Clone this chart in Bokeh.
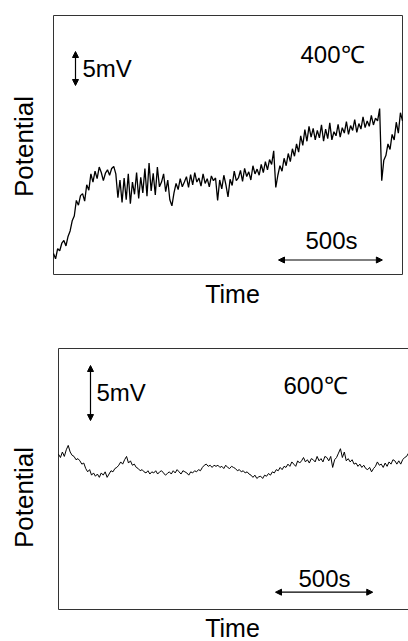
from bokeh.plotting import figure
from bokeh.models import Arrow, NormalHead, Range1d, ColumnDataSource
from bokeh.core.properties import value
from bokeh.layouts import column
from bokeh.embed import file_html
from bokeh.resources import INLINE
import math

# ---------------- data ----------------
# 400 C run: potential (mV, arbitrary offset) sampled every 10 s
pot_400 = [
    3.1, 2.3, 3.8, 3.5, 4.6, 5.0, 4.2, 5.6, 6.4, 7.9,
    8.6, 10.9, 10.2, 11.6, 11.9, 10.8, 13.2, 12.4, 14.8,
    13.6, 15.2, 14.1, 15.8, 15.0, 13.8, 14.9, 15.4, 14.6, 15.6, 15.9, 14.8,
    11.3,
    13.9, 10.6, 14.2, 11.0, 14.8, 10.4, 13.6, 11.8, 15.0, 11.2, 14.3, 12.0, 15.6,
    11.5, 16.4, 12.3, 14.9, 11.7, 15.8, 12.9, 13.6, 14.8, 12.2, 13.9, 11.0,
    10.1,
    12.0, 13.4, 12.5, 14.1, 12.9, 13.6, 14.4, 12.8, 14.7, 13.2, 15.0, 13.6, 14.2,
    13.0, 14.8, 13.4, 14.1, 12.9, 14.5, 13.8, 14.2,
    10.9,
    13.9, 12.6, 14.6, 13.2, 11.4, 14.0, 13.1, 15.2, 13.8,
    14.2, 15.3, 13.7, 15.6, 14.4, 15.1, 13.9, 16.0, 14.8, 15.5, 14.6, 16.2, 15.0,
    16.6, 15.4, 16.9,
    16.2, 18.2, 12.8,
    14.6, 16.0, 15.2, 17.1, 16.0, 17.8, 16.6, 18.5, 17.4, 19.2, 18.0,
    20.4, 19.0, 21.3, 19.6, 21.8, 20.2, 21.5, 19.8, 21.2,
    20.1, 22.0, 19.6, 21.4, 20.0, 22.3, 19.8, 21.0, 20.4, 22.1, 20.2, 21.6, 20.8,
    22.5, 20.6, 21.9, 21.2, 22.8, 20.9, 22.2, 21.4, 23.2, 21.6, 22.6, 21.8, 23.4,
    22.0, 23.0, 22.6,
    24.4, 13.8,
    16.8, 17.5, 19.2, 18.4, 20.6, 19.8, 22.4, 20.8, 23.8, 22.6,
]
time_400 = [10 * i for i in range(len(pot_400))]

# 600 C run: potential (mV, arbitrary offset) sampled every 10 s
pot_600 = [
    14.1, 13.8, 14.3, 13.9, 14.5, 14.9, 14.3, 14.0, 13.9, 13.6,
    13.7, 13.5, 13.2, 13.3, 12.8, 12.5, 12.7, 12.2, 12.4, 12.1,
    12.3, 12.0, 12.4, 12.2, 12.5, 12.0, 12.3, 12.6, 12.5, 12.8,
    12.9, 13.1, 13.4, 13.2, 13.6, 13.9, 13.3, 13.5, 13.1, 13.2,
    12.9, 12.8, 12.6, 12.7, 12.5, 12.4, 12.6, 12.3, 12.5, 12.4,
    12.6, 12.3, 12.5, 12.6, 12.4, 12.2, 12.35, 12.5, 12.3, 12.6,
    12.4, 12.7, 12.5, 12.3, 12.6, 12.5, 12.4, 12.2, 12.5, 12.4,
    12.6, 12.5, 12.7, 12.6, 12.9, 13.1, 13.2, 13.0, 13.1, 12.9,
    13.1, 13.0, 13.1, 12.9, 13.0, 12.8, 13.1, 12.9, 12.8, 13.0,
    12.9, 12.8, 12.6, 12.7, 12.5, 12.6, 12.4, 12.5, 12.3, 12.2,
    12.0, 12.2, 11.9, 12.05, 12.1, 11.9, 12.2, 12.1, 12.35, 12.2,
    12.5, 12.4, 12.7, 12.6, 12.9, 12.7, 13.0, 12.9, 13.2, 13.0,
    13.4, 13.2, 13.0, 13.5, 13.3, 13.5, 13.8, 13.4, 13.6, 13.3,
    13.7, 13.6, 13.4, 13.9, 13.5, 13.7, 13.4, 13.9, 13.8, 13.5,
    13.9, 12.9, 13.6, 13.8, 14.2, 14.6, 13.8, 14.3, 13.5, 13.7,
    13.4, 13.6, 13.2, 13.3, 13.0, 13.2, 12.9, 13.1, 12.8, 12.7,
    12.9, 12.5, 12.8, 13.0, 13.4, 13.1, 13.2, 12.9, 13.3, 13.0,
    13.4, 13.2, 13.6, 13.5, 13.2, 13.5, 13.2, 13.6, 13.8, 13.9,
    14.2,
]
time_600 = [10 * i for i in range(len(pot_600))]

labels_temp = ["400\u2103", "600\u2103"]
scale_v_label = "5mV"
scale_t_label = "500s"
x_title = "Time"
y_title = "Potential"
scale_v = 5.0    # mV
scale_t = 500.0  # s

FONT = "Liberation Sans"
INK = "black"
FRAME = "#333333"
SHIFT = 0.36  # observed baseline offset of rendered text, in em


def make_panel(W, H, box_l, box_t, box_r, box_b, t_max, v_max, draw_right):
    """Figure whose plotting frame fills the canvas; the drawn box is the data area."""
    kx = (box_r - box_l) / t_max
    ky = (box_b - box_t) / v_max
    xr = Range1d(-box_l / kx, (W - box_l) / kx)
    yr = Range1d((box_b - H) / ky, box_b / ky)
    p = figure(width=W, height=H, output_backend="svg", toolbar_location=None,
               x_axis_type=None, y_axis_type=None, x_range=xr, y_range=yr,
               min_border=0, min_border_left=0, min_border_right=0,
               min_border_top=0, min_border_bottom=0)
    p.grid.visible = False
    p.outline_line_color = None
    p.background_fill_color = "white"
    p.border_fill_color = "white"
    x_far = t_max if draw_right else xr.end + 50
    if draw_right:
        xs = [[0, 0, x_far, x_far, 0]]
        ys = [[0, v_max, v_max, 0, 0]]
    else:
        xs = [[x_far, 0, 0, x_far]]
        ys = [[v_max, v_max, 0, 0]]
    p.multi_line(xs, ys, line_color=FRAME, line_width=1)
    return p, kx, ky


def texts(p, xs, ys, strs, size, align="left", angle=0.0):
    src = ColumnDataSource(dict(x=xs, y=ys, text=strs))
    p.text(x="x", y="y", text="text", source=src, text_font=value(FONT),
           text_font_size=value("%dpx" % size), text_color=INK, text_align=align,
           text_baseline="alphabetic", angle=angle)


def arrow(p, x0, y0, x1, y1):
    p.add_layout(Arrow(x_start=x0, y_start=y0, x_end=x1, y_end=y1,
                       line_color=INK, line_width=1.2,
                       start=NormalHead(size=6, fill_color=INK, line_color=INK, line_width=1),
                       end=NormalHead(size=6, fill_color=INK, line_color=INK, line_width=1)))


# ---------------- top panel (400 C) ----------------
p1, kx1, ky1 = make_panel(408, 320, 53, 15, 402, 274, 1680, 38.1, True)
p1.line(time_400, pot_400, line_color=INK, line_width=1.3)

def t1(px):
    return (px - 53) / kx1

def v1(py):
    return (274 - py) / ky1

def hb(py, size):
    return py - SHIFT * size

texts(p1, [t1(300)], [v1(hb(63, 24))], [labels_temp[0]], 24)
texts(p1, [t1(82)], [v1(hb(77, 24))], [scale_v_label], 24)
arrow(p1, t1(75), v1(51), t1(75), v1(51) - scale_v)
texts(p1, [t1(305)], [v1(hb(249, 24))], [scale_t_label], 24)
arrow(p1, t1(278), v1(259.5), t1(278) + scale_t, v1(259.5))
texts(p1, [t1(232)], [v1(hb(302, 25))], [x_title], 25, align="center")
texts(p1, [t1(33 - SHIFT * 26)], [v1(146)], [y_title], 26, align="center", angle=math.pi / 2)

# ---------------- bottom panel (600 C) ----------------
p2, kx2, ky2 = make_panel(408, 321, 58, 28, 408, 289, 1800, 23.7, False)
p2.line(time_600, pot_600, line_color=INK, line_width=1.0)

def t2(px):
    return (px - 58) / kx2

def v2(py):
    return (289 - (py - 320)) / ky2

texts(p2, [t2(283)], [v2(hb(393.3, 24))], [labels_temp[1]], 24)
texts(p2, [t2(96)], [v2(hb(401, 24))], [scale_v_label], 24)
arrow(p2, t2(90), v2(365), t2(90), v2(365) - scale_v)
texts(p2, [t2(298)], [v2(hb(586.7, 24))], [scale_t_label], 24)
arrow(p2, t2(275), v2(591.7), t2(275) + scale_t, v2(591.7))
texts(p2, [t2(232)], [v2(hb(636, 25))], [x_title], 25, align="center")
texts(p2, [t2(33 - SHIFT * 26)], [v2(497)], [y_title], 26, align="center", angle=math.pi / 2)

layout = column(p1, p2, spacing=0)
open("out.html", "w").write(file_html(layout, INLINE))
